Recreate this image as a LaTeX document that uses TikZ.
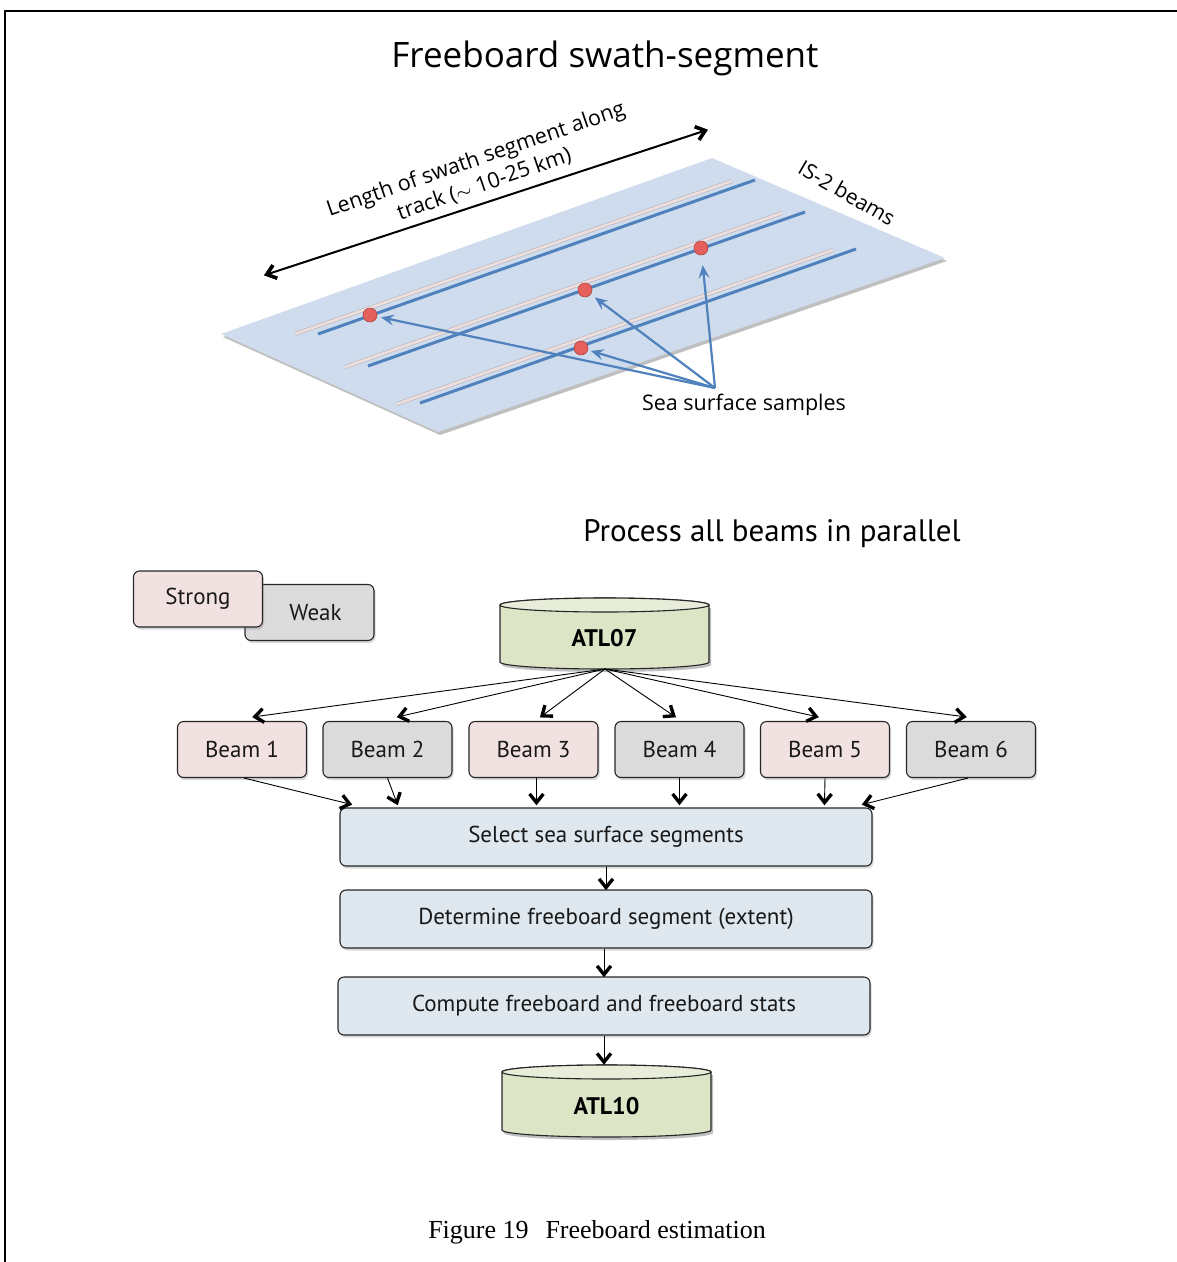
\documentclass[tikz,border=0pt]{standalone}
\usepackage{fontspec}
\setmainfont{Liberation Serif}
\newfontfamily\topfont{Open Sans}
\newfontfamily\flowfont{PT Sans}
\usetikzlibrary{arrows.meta,shadows,calc,decorations.markings}
\definecolor{plane}{HTML}{CFDCEE}
\definecolor{beamblue}{HTML}{4F81BD}
\definecolor{beampink}{HTML}{EEDFDD}
\definecolor{beamedge}{HTML}{B9B9C2}
\definecolor{dotred}{HTML}{E5605C}
\definecolor{strongfill}{HTML}{F2E1E1}
\definecolor{weakfill}{HTML}{DBDBDB}
\definecolor{stepfill}{HTML}{DFE8EE}
\definecolor{cylbody}{HTML}{DDE5C7}
\definecolor{cyltop}{HTML}{E8EDDA}
\tikzset{
  box/.style={draw=black!85, line width=1.1pt, rounded corners=6pt,
    font=\flowfont\fontsize{23}{26}\selectfont, text=black!90,
    drop shadow={shadow xshift=1.5pt, shadow yshift=-2.5pt, opacity=0.3}},
  strongbox/.style={box, fill=strongfill, minimum width=129pt, minimum height=56pt},
  weakbox/.style={box, fill=weakfill, minimum width=129pt, minimum height=56pt},
  stepbox/.style={box, fill=stepfill, minimum width=532pt, minimum height=58pt},
  chev/.pic={\fill[black] (0.8,0) -- (-9.5,8.2) -- (-11.6,5.6)
      -- (-4.6,0) -- (-11.6,-5.6) -- (-9.5,-8.2) -- cycle;},
  vtipend/.style={postaction={decorate}, decoration={markings,
    mark=at position 1 with {\pic[transform shape] {chev};}}},
  vtipstart/.style={postaction={decorate}, decoration={markings,
    mark=at position 0 with {\pic[transform shape, xscale=-1] {chev};}}},
  flowarrow/.style={draw=black, line width=0.9pt, vtipend},
  bluearrow/.style={draw=beamblue, line width=2.2pt,
    -{Stealth[length=13pt,width=11pt,inset=5pt]}},
  dot/.style={circle, fill=dotred, draw=dotred!75!black, line width=0.6pt,
    inner sep=0pt, minimum size=14pt},
  pinkedge/.style={draw=beamedge, line width=4pt},
  pinkline/.style={draw=beampink, line width=2.6pt},
  blueline/.style={draw=beamblue, line width=3pt},
}
\begin{document}
\begin{tikzpicture}[x=1pt,y=1pt]
\useasboundingbox (0,0) rectangle (1177,-1262);
% frame
\draw[line width=2.2pt] (5,-1262) -- (5,-11) -- (1177,-11);

% ---------- top part ----------
\node[font=\topfont\fontsize{35}{40}\selectfont] (title) at (605,-58) {Freeboard swath-segment};

% plane with shadow
\fill[black, opacity=0.25] (223,-337) -- (440,-435) -- (947,-261) -- (714,-161) -- cycle;
\fill[plane] (221,-334) -- (438,-432) -- (945,-258) -- (712,-158) -- cycle;

% beam pairs
\draw[pinkedge] (295,-334) -- (732,-181);
\draw[pinkline] (295,-334) -- (732,-181);
\draw[blueline] (318,-334) -- (755,-180);
\draw[pinkedge] (345,-367) -- (782,-213);
\draw[pinkline] (345,-367) -- (782,-213);
\draw[blueline] (368,-366) -- (805,-212);
\draw[pinkedge] (397,-404) -- (833,-250);
\draw[pinkline] (397,-404) -- (833,-250);
\draw[blueline] (420,-403) -- (856,-249);

% dots
\node[dot] (d1) at (370,-315) {};
\node[dot] (d2) at (585,-290) {};
\node[dot] (d3) at (701,-248) {};
\node[dot] (d4) at (581,-348) {};

% labels
\node[font=\topfont\fontsize{21.5}{24}\selectfont] (ss) at (744,-405) {Sea surface samples};
\coordinate (ssp) at (715,-388);
\draw[bluearrow, shorten >=4pt] (ssp) -- (d1);
\draw[bluearrow, shorten >=5pt] (ssp) -- (d2);
\draw[bluearrow, shorten >=10pt] (ssp) -- (d3);
\draw[bluearrow, shorten >=3pt] (ssp) -- (d4);

\node[font=\topfont\fontsize{21}{24}\selectfont, rotate=-30] (is2) at (847,-193) {IS-2 beams};

\coordinate (la) at (265,-275);
\coordinate (lb) at (707,-130);
\draw[line width=2pt, vtipstart, vtipend] (la) -- (lb);
\node[font=\topfont\fontsize{21.5}{26}\selectfont, align=center, rotate=19] (len) at (480,-172) {Length of swath segment along\\track ($\sim$ 10-25 km)};

% ---------- lower part ----------
\node[font=\flowfont\fontsize{31}{35}\selectfont] (proc) at (772,-534) {Process all beams in parallel};

% legend
\node[weakbox] (weak) at (309.5,-612.5) {\hspace*{12pt}Weak};
\node[strongbox] (strong) at (198,-599) {Strong};

% ATL07 cylinder
\fill[black, opacity=0.25] (502,-608) -- (502,-665) arc[start angle=180,end angle=360,x radius=104.5pt,y radius=7pt] -- (711,-608) -- cycle;
\filldraw[draw=black!85, line width=1.1pt, fill=cylbody] (500,-605) -- (500,-662) arc[start angle=180,end angle=360,x radius=104.5pt,y radius=7pt] -- (709,-605) arc[start angle=0,end angle=180,x radius=104.5pt,y radius=7pt] -- cycle;
\filldraw[draw=black!85, line width=1.1pt, fill=cyltop] (604.5,-605) ellipse[x radius=104.5pt,y radius=7pt];
\node[font=\flowfont\bfseries\fontsize{24}{26}\selectfont] (atl07) at (604.5,-638) {ATL07};
\coordinate (atl07b) at (605,-669);

% beams
\node[strongbox] (b1) at (242,-749.5) {Beam 1};
\node[weakbox]   (b2) at (387.5,-749.5) {Beam 2};
\node[strongbox] (b3) at (533.5,-749.5) {Beam 3};
\node[weakbox]   (b4) at (679.5,-749.5) {Beam 4};
\node[strongbox] (b5) at (825,-749.5) {Beam 5};
\node[weakbox]   (b6) at (971,-749.5) {Beam 6};

\draw[flowarrow] (atl07b) -- ($(b1.north)+(11,4)$);
\draw[flowarrow] (atl07b) -- ($(b2.north)+(10,4)$);
\draw[flowarrow] (atl07b) -- ($(b3.north)+(7,4)$);
\draw[flowarrow] (atl07b) -- ($(b4.north)+(-4,4)$);
\draw[flowarrow] (atl07b) -- ($(b5.north)+(-7,4)$);
\draw[flowarrow] (atl07b) -- ($(b6.north)+(-5,4)$);

% steps
\node[stepbox] (sel) at (606,-837) {Select sea surface segments};
\node[stepbox] (det) at (606,-919) {Determine freeboard segment (extent)};
\node[stepbox] (cmp) at (604,-1006) {Compute freeboard and freeboard stats};

\draw[flowarrow] ($(b1.south)+(2,0)$) -- ($(sel.north west)+(12,3)$);
\draw[flowarrow] (b2.south) -- ($(sel.north west)+(58,3)$);
\draw[flowarrow] ($(b3.south)+(3,0)$) -- ($(sel.north west)+(197,3)$);
\draw[flowarrow] (b4.south) -- ($(sel.north west)+(340,3)$);
\draw[flowarrow] (b5.south) -- ($(sel.north west)+(485,3)$);
\draw[flowarrow] ($(b6.south)+(-3,0)$) -- ($(sel.north east)+(-10,3)$);

\draw[flowarrow] (sel.south) -- (det.north);
\draw[flowarrow] ($(det.south)+(-2,0)$) -- (cmp.north);

% ATL10 cylinder
\fill[black, opacity=0.25] (504,-1075) -- (504,-1133) arc[start angle=180,end angle=360,x radius=104.5pt,y radius=7pt] -- (713,-1075) -- cycle;
\filldraw[draw=black!85, line width=1.1pt, fill=cylbody] (502,-1072) -- (502,-1130) arc[start angle=180,end angle=360,x radius=104.5pt,y radius=7pt] -- (711,-1072) arc[start angle=0,end angle=180,x radius=104.5pt,y radius=7pt] -- cycle;
\filldraw[draw=black!85, line width=1.1pt, fill=cyltop] (606.5,-1072) ellipse[x radius=104.5pt,y radius=7pt];
\node[font=\flowfont\bfseries\fontsize{24}{26}\selectfont] (atl10) at (606.5,-1106) {ATL10};
\coordinate (atl10t) at (604,-1064);
\draw[flowarrow] (cmp.south) -- (atl10t);

% caption
\node[font=\fontsize{26}{30}\selectfont] (cap) at (597,-1232) {Figure 19\hspace{0.4em} Freeboard estimation};
\end{tikzpicture}
\end{document}
